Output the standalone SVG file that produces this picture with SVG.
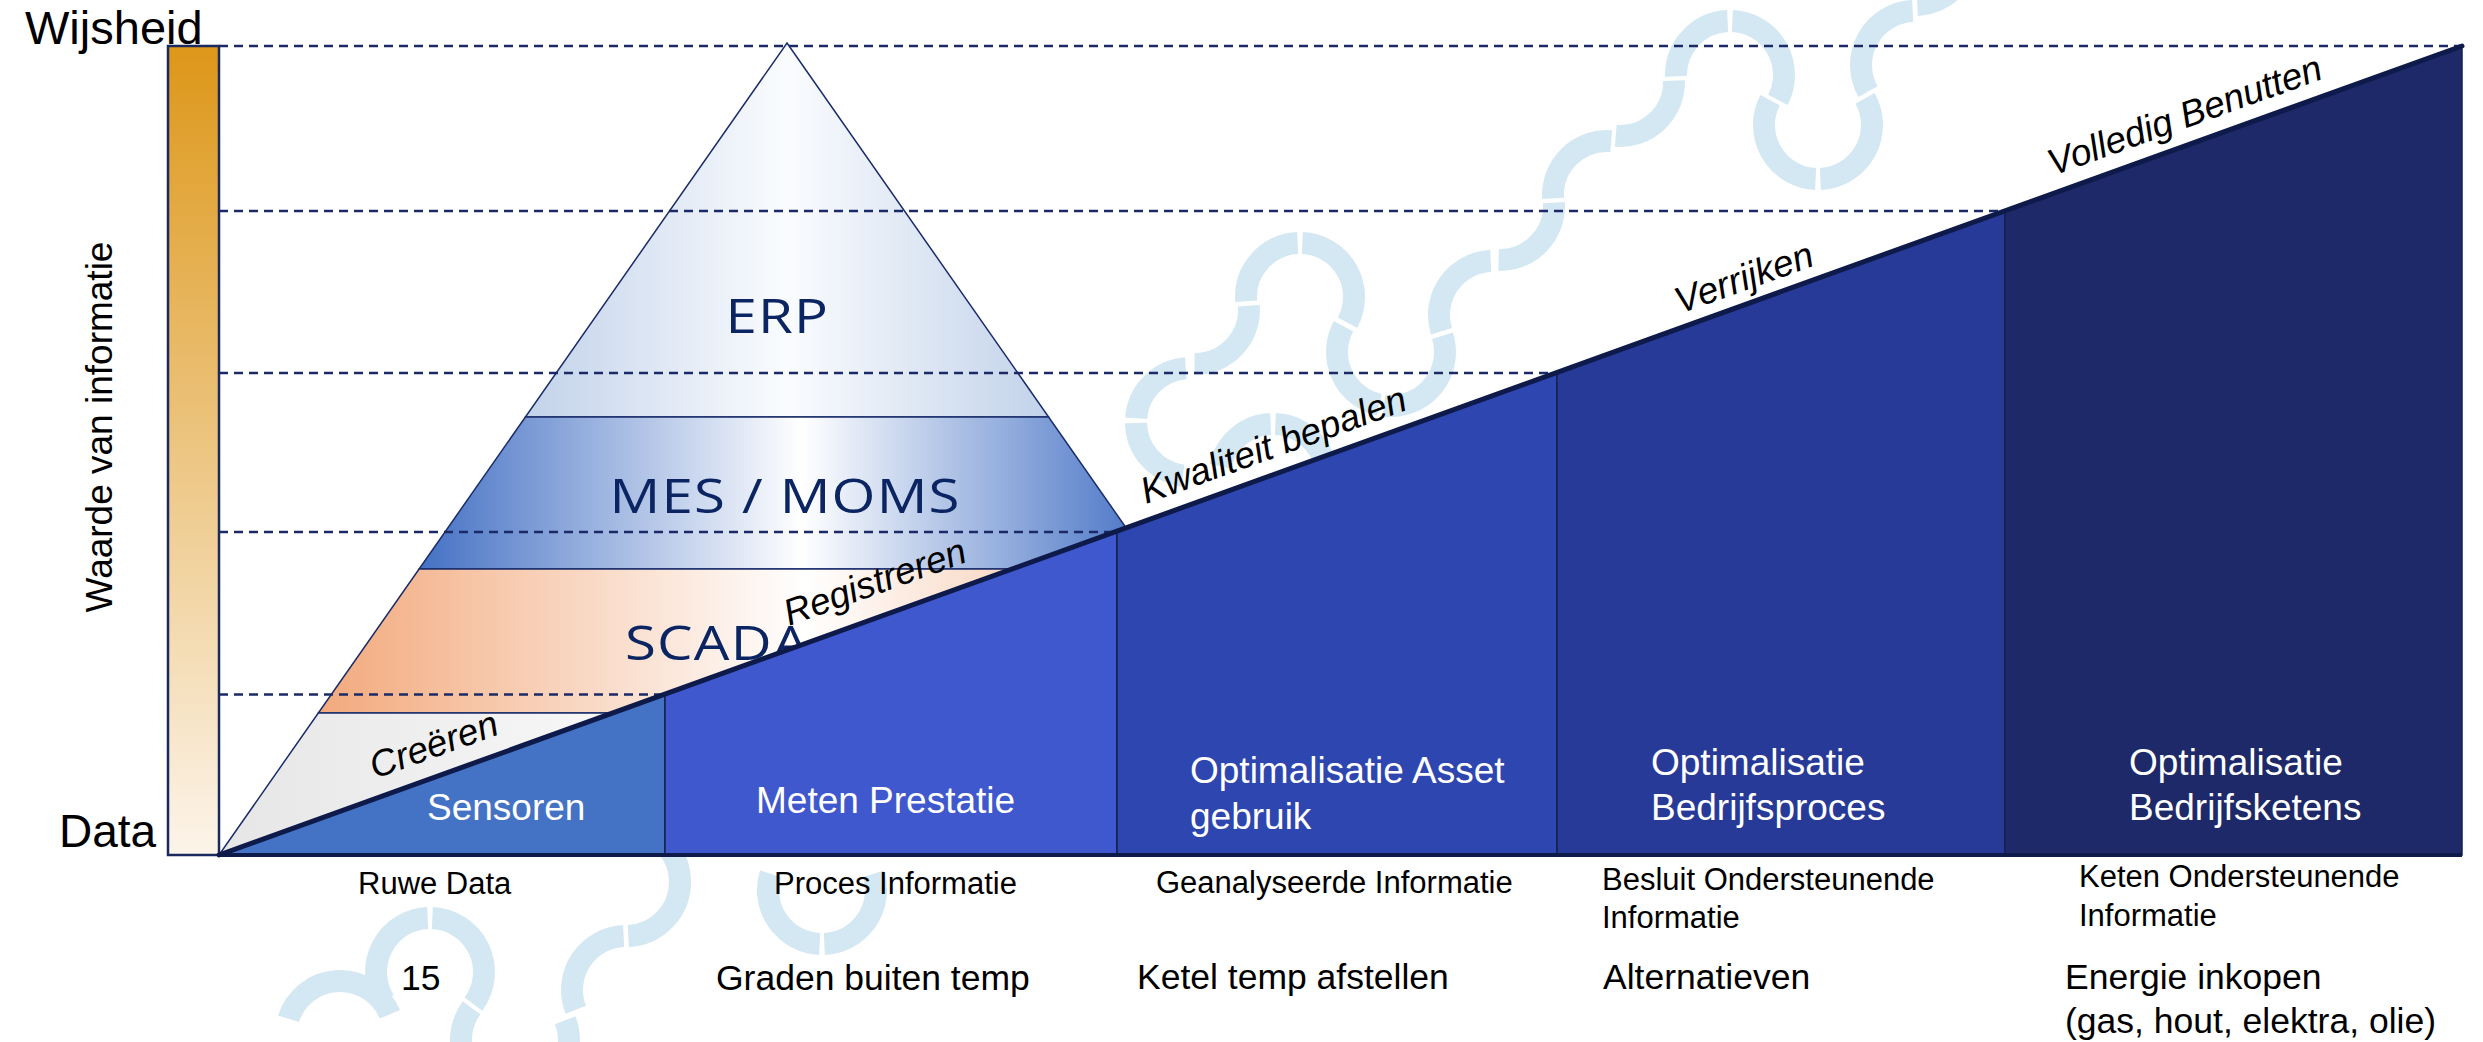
<svg xmlns="http://www.w3.org/2000/svg" width="2483" height="1042" viewBox="0 0 2483 1042">
<style>
.wm{fill:none;stroke:#D4E8F3;stroke-width:22}
.guide{fill:none;stroke:#1B2A66;stroke-width:2.5;stroke-dasharray:9 6}
.lay{stroke:#1A2C6B;stroke-width:1.5}
.pt{font-family:"Open Sans","Noto Sans",sans-serif;font-size:47px;fill:#0B2563;letter-spacing:1px}
.colp{stroke:#14214F;stroke-width:1.5}
.ct{font-family:"Liberation Sans",Arial,sans-serif;font-size:37px;fill:#FFFFFF}
.lt{font-family:"Liberation Sans",Arial,sans-serif;font-size:31px;fill:#000000}
.bt{font-family:"Liberation Sans",Arial,sans-serif;font-size:35.5px;fill:#000000}
.ax{font-family:"Liberation Sans",Arial,sans-serif;fill:#000000}
.it{font-family:"Liberation Sans",Arial,sans-serif;font-style:italic;font-size:37px;fill:#000000}
</style>
<defs>
<linearGradient id="gBar" x1="0" y1="0" x2="0" y2="1">
<stop offset="0" stop-color="#DD9719"/><stop offset="1" stop-color="#FCF4EA"/>
</linearGradient>
<linearGradient id="gErp" x1="0" y1="0" x2="1" y2="0">
<stop offset="0" stop-color="#C2D2EA"/><stop offset="0.5" stop-color="#FAFCFE"/><stop offset="1" stop-color="#C2D2EA"/>
</linearGradient>
<linearGradient id="gMes" x1="0" y1="0" x2="1" y2="0">
<stop offset="0" stop-color="#4471C4"/><stop offset="0.52" stop-color="#FFFFFF"/><stop offset="1" stop-color="#4471C4"/>
</linearGradient>
<linearGradient id="gScada" x1="0" y1="0" x2="1" y2="0">
<stop offset="0" stop-color="#F2A97C"/><stop offset="0.52" stop-color="#FFFFFF"/><stop offset="1" stop-color="#F2A97C"/>
</linearGradient>
<linearGradient id="gCre" x1="0" y1="0" x2="1" y2="0">
<stop offset="0" stop-color="#E6E6E6"/><stop offset="0.5" stop-color="#FFFFFF"/><stop offset="1" stop-color="#E6E6E6"/>
</linearGradient>
</defs>
<rect x="0" y="0" width="2483" height="1042" fill="#FFFFFF"/>

<g id="watermark">
<path class="wm" d="M1182.95,475.54 A54,54 0 0 1 1136.01,422.94 M1136.13,418.23 A54,54 0 0 1 1185.76,368.17"/>
<path class="wm" d="M1220.28,466.31 A54,54 0 0 1 1270.65,424.05 M1275.35,424.05 A54,54 0 0 1 1325.72,466.31"/>
<path class="wm" d="M1248.83,305.76 A54,54 0 0 1 1194.53,364"/>
<path class="wm" d="M1246.17,301.24 A54,54 0 0 1 1297.65,243.05 M1302.35,243.05 A54,54 0 0 1 1347.46,322.77"/>
<path class="wm" d="M1442.5,335.76 A54,54 0 0 1 1383.95,405.54 M1379.31,404.72 A54,54 0 0 1 1343.54,326.23"/>
<path class="wm" d="M1441.5,331.24 A54,54 0 0 1 1490.65,261.05"/>
<path class="wm" d="M1553.9,202.7 A54,54 0 0 1 1498.59,259.98"/>
<path class="wm" d="M1553.1,198.3 A54,54 0 0 1 1611.24,141.17"/>
<path class="wm" d="M1673.98,80.59 A54,54 0 0 1 1615.76,135.83"/>
<path class="wm" d="M1676.02,76.41 A54,54 0 0 1 1727.65,21.05 M1732.35,21.05 A54,54 0 0 1 1777.9,99.93"/>
<path class="wm" d="M1865,98.41 A54,54 0 0 1 1820.35,178.95 M1815.65,178.95 A54,54 0 0 1 1770.1,100.07"/>
<path class="wm" d="M1868,91.59 A54,54 0 0 1 1912.65,11.05"/>
<path class="wm" d="M1968.54,-56.05 A54,54 0 0 1 1917.35,4.95"/>
<path class="wm" d="M288.5,1018.76 A54,54 0 0 1 389.89,1014.33"/>
<path class="wm" d="M384.46,1001.01 A54,54 0 0 1 427.65,918.05 M432.35,918.05 A54,54 0 0 1 473.41,1004.12"/>
<path class="wm" d="M565.24,1020.21 A54,54 0 0 1 517.35,1093.95 M512.65,1093.95 A54,54 0 0 1 471.59,1007.88"/>
<path class="wm" d="M575.76,1009.79 A54,54 0 0 1 623.65,936.05"/>
<path class="wm" d="M628.35,828.05 A54,54 0 0 1 628.35,935.95"/>
<path class="wm" d="M873.5,873.76 A54,54 0 0 1 824.35,943.95 M819.65,943.95 A54,54 0 0 1 770.5,873.76"/>
</g>

<g id="value-bar">
<rect x="168" y="46" width="51" height="809" fill="url(#gBar)" stroke="#1B2A5E" stroke-width="2.5"/>
<text class="ax" x="25" y="44" font-size="47">Wijsheid</text>
<text class="ax" x="59" y="847" font-size="46">Data</text>
<text class="ax" font-size="37" text-anchor="middle" transform="translate(112,427) rotate(-90)">Waarde van informatie</text>
</g>

<g id="pyramid">
<g id="layer-erp">
<polygon class="lay" points="787,43 1048.6,417 525.4,417" fill="url(#gErp)"/>
<text class="pt" transform="translate(725.5,333) scale(1.2,1)">ERP</text>
</g>
<g id="layer-mes">
<polygon class="lay" points="525.4,417 1048.6,417 1154.9,569 419.1,569" fill="url(#gMes)"/>
<text class="pt" transform="translate(609.5,513) scale(1.2,1)">MES / MOMS</text>
</g>
<g id="layer-scada">
<polygon class="lay" points="419.1,569 1154.9,569 1255.7,713 318.3,713" fill="url(#gScada)"/>
<text class="pt" transform="translate(625,660) scale(1.2,1)">SCADA</text>
</g>
<g id="layer-base">
<polygon class="lay" points="318.3,713 1255.7,713 1355,855 219,855" fill="url(#gCre)"/>
</g>
</g>

<g id="guides">
<line class="guide" x1="219" y1="46" x2="2462" y2="46"/>
<line class="guide" x1="219" y1="211" x2="2005" y2="211"/>
<line class="guide" x1="219" y1="373" x2="1557" y2="373"/>
<line class="guide" x1="219" y1="532" x2="1117" y2="532"/>
<line class="guide" x1="219" y1="694.5" x2="665" y2="694.5"/>
</g>

<g id="ramp">
<g id="col-sensoren">
<polygon class="colp" points="219,855 665,694.1 665,855" fill="#4472C4"/>
<text class="ct" x="427" y="820">Sensoren</text>
</g>
<g id="col-meten">
<polygon class="colp" points="665,694.1 1117,531.1 1117,855 665,855" fill="#3F58CD"/>
<text class="ct" x="756" y="813">Meten Prestatie</text>
</g>
<g id="col-asset">
<polygon class="colp" points="1117,531.1 1557,372.4 1557,855 1117,855" fill="#2E46B0"/>
<text class="ct" x="1190" y="783">Optimalisatie Asset</text>
<text class="ct" x="1190" y="829">gebruik</text>
</g>
<g id="col-proces">
<polygon class="colp" points="1557,372.4 2005,210.8 2005,855 1557,855" fill="#283A98"/>
<text class="ct" x="1651" y="775">Optimalisatie</text>
<text class="ct" x="1651" y="820">Bedrijfsproces</text>
</g>
<g id="col-ketens">
<polygon class="colp" points="2005,210.8 2462,46 2462,855 2005,855" fill="#1D2968"/>
<text class="ct" x="2129" y="775">Optimalisatie</text>
<text class="ct" x="2129" y="820">Bedrijfsketens</text>
</g>
<line x1="219" y1="855" x2="2462" y2="46" stroke="#0E1A4A" stroke-width="5" stroke-linecap="round"/>
<line x1="219" y1="855" x2="2462" y2="855" stroke="#0E1A4A" stroke-width="4"/>
</g>

<g id="slope-labels">
<text class="it" transform="translate(375,779) rotate(-19.8)">Creëren</text>
<text class="it" transform="translate(789,626) rotate(-19.8)">Registreren</text>
<text class="it" font-size="38" transform="translate(1146,504) rotate(-19.8)">Kwaliteit bepalen</text>
<text class="it" transform="translate(1680,314) rotate(-19.8)">Verrijken</text>
<text class="it" transform="translate(2053,176) rotate(-19.8)">Volledig Benutten</text>
</g>

<g id="info-labels">
<text class="lt" x="358" y="894">Ruwe Data</text>
<text class="lt" x="774" y="894">Proces Informatie</text>
<text class="lt" x="1156" y="893">Geanalyseerde Informatie</text>
<text class="lt" x="1602" y="890">Besluit Ondersteunende</text>
<text class="lt" x="1602" y="928">Informatie</text>
<text class="lt" x="2079" y="887">Keten Ondersteunende</text>
<text class="lt" x="2079" y="926">Informatie</text>
</g>

<g id="examples">
<text class="bt" x="401" y="990">15</text>
<text class="bt" x="716" y="990">Graden buiten temp</text>
<text class="bt" x="1137" y="989">Ketel temp afstellen</text>
<text class="bt" x="1603" y="989">Alternatieven</text>
<text class="bt" x="2065" y="989">Energie inkopen</text>
<text class="bt" x="2065" y="1033">(gas, hout, elektra, olie)</text>
</g>
</svg>
